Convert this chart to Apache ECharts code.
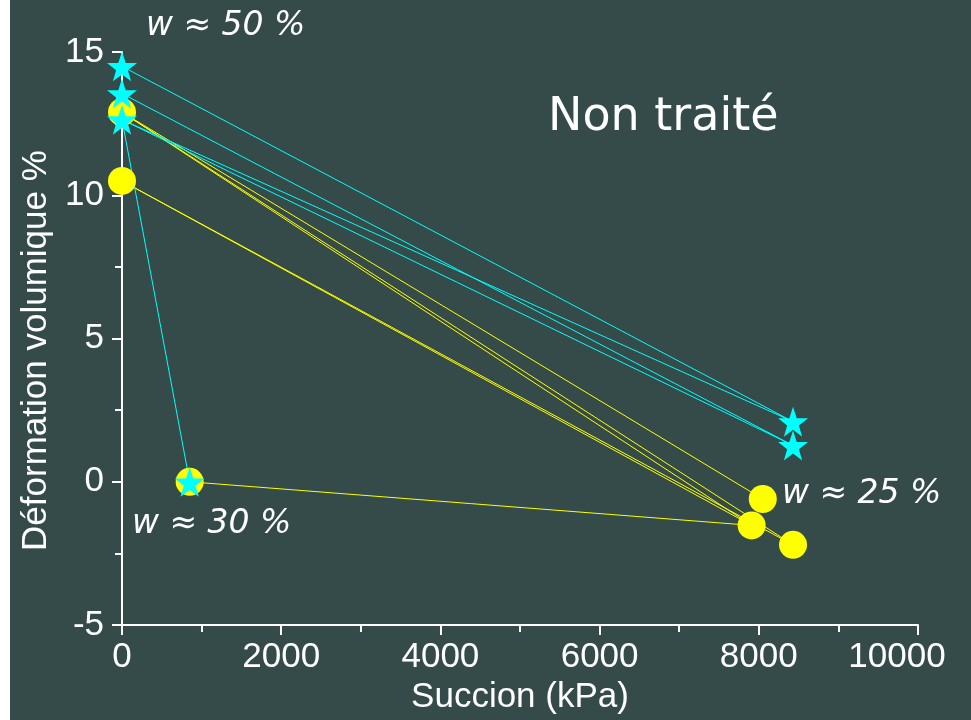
<!DOCTYPE html>
<html>
<head>
<meta charset="utf-8">
<script src="https://cdn.jsdelivr.net/npm/echarts@6/dist/echarts.min.js"></script>
<style>
html,body{margin:0;padding:0;background:#344b49;}
#c{width:971px;height:720px;}
</style>
</head>
<body>
<div id="c"></div>
<script>
// Yellow circles (suction kPa, volumetric strain %)
const yellowPoints = [[0, 12.9], [0, 10.5], [850, 0], [8050, -0.6], [7910, -1.52], [8430, -2.2]];
// Cyan stars
const cyanPoints = [[0, 14.5], [0, 13.55], [0, 12.64], [850, 0], [8430, 2.1], [8430, 1.27]];
// Links between points (index pairs)
const yellowLinks = [[0, 3], [0, 4], [0, 5], [1, 4], [1, 5], [2, 4]];
const cyanLinks = [[0, 4], [1, 5], [2, 4], [2, 5], [2, 3]];
// Axis ticks
const xTicks = [0, 2000, 4000, 6000, 8000, 10000];
const yTicks = [-5, 0, 5, 10, 15];

const starPath = 'path://M50,0 L61.8,35.1 L98.1,35.1 L68.8,56.8 L79.4,90.5 L50,69.6 L20.6,90.5 L31.2,56.8 L1.9,35.1 L38.2,35.1 Z';
const CYAN = '#00ffff', YELLOW = '#ffff00';

const series = [];
yellowLinks.forEach(([a, b]) => series.push({
  type: 'line', data: [yellowPoints[a], yellowPoints[b]], symbol: 'none', silent: true, z: 1,
  lineStyle: { color: YELLOW, width: 1 }
}));
cyanLinks.forEach(([a, b]) => series.push({
  type: 'line', data: [cyanPoints[a], cyanPoints[b]], symbol: 'none', silent: true, z: 1,
  lineStyle: { color: CYAN, width: 1 }
}));
series.push({ type: 'scatter', data: yellowPoints, symbol: 'circle', symbolSize: 28, z: 2,
  itemStyle: { color: YELLOW, opacity: 1 } });
series.push({ type: 'scatter', data: cyanPoints, symbol: starPath, symbolSize: 30, z: 3,
  itemStyle: { color: CYAN, opacity: 1 } });

const labelFont = { color: '#ffffff', fontFamily: 'Liberation Sans', fontSize: 35 };
const annFont = { fill: '#ffffff', fontFamily: 'DejaVu Sans', fontStyle: 'italic', fontSize: 33 };
const xMax = xTicks[xTicks.length - 1];

const chart = echarts.init(document.getElementById('c'));
chart.setOption({
  animation: false,
  backgroundColor: '#344b49',
  grid: { left: 122, right: 53, top: 52, bottom: 93 },
  xAxis: {
    type: 'value', min: xTicks[0], max: xMax, interval: 2000,
    name: 'Succion (kPa)', nameLocation: 'middle', nameGap: 53,
    nameTextStyle: { color: '#ffffff', fontFamily: 'Liberation Sans', fontSize: 35 },
    axisLine: { onZero: false, lineStyle: { color: '#ffffff', width: 2 } },
    axisTick: { show: true, inside: false, length: 10, lineStyle: { color: '#ffffff', width: 2 } },
    minorTick: { show: true, splitNumber: 2, length: 7, lineStyle: { color: '#ffffff', width: 2 } },
    splitLine: { show: false },
    axisLabel: Object.assign({
      margin: 15,
      formatter: v => v === xMax ? '{m|' + v + '}' : String(v),
      rich: { m: { color: '#ffffff', fontFamily: 'Liberation Sans', fontSize: 35, padding: [0, 42, 0, 0] } }
    }, labelFont)
  },
  yAxis: {
    type: 'value', min: yTicks[0], max: yTicks[yTicks.length - 1], interval: 5,
    name: 'Déformation volumique %', nameLocation: 'middle', nameGap: 68,
    nameTextStyle: { color: '#ffffff', fontFamily: 'Liberation Sans', fontSize: 35, padding: [0, 24, 0, 0] },
    axisLine: { show: true, onZero: false, lineStyle: { color: '#ffffff', width: 2 } },
    axisTick: { show: true, inside: false, length: 10, lineStyle: { color: '#ffffff', width: 2 } },
    minorTick: { show: true, splitNumber: 2, length: 7, lineStyle: { color: '#ffffff', width: 2 } },
    splitLine: { show: false },
    axisLabel: Object.assign({ margin: 18 }, labelFont)
  },
  graphic: [
    { type: 'rect', left: 0, top: 0, shape: { width: 10, height: 720 }, style: { fill: '#ffffff' }, z: 100 },
    { type: 'text', left: 548, top: 95, style: { text: 'Non traité', fill: '#ffffff', fontFamily: 'DejaVu Sans', fontSize: 46 }, z: 100 },
    { type: 'text', left: 146, top: 10, style: Object.assign({ text: 'w ≈ 50 %' }, annFont), z: 100 },
    { type: 'text', left: 132, top: 508, style: Object.assign({ text: 'w ≈ 30 %' }, annFont), z: 100 },
    { type: 'text', left: 782, top: 478, style: Object.assign({ text: 'w ≈ 25 %' }, annFont), z: 100 }
  ],
  series: series
});
</script>
</body>
</html>
